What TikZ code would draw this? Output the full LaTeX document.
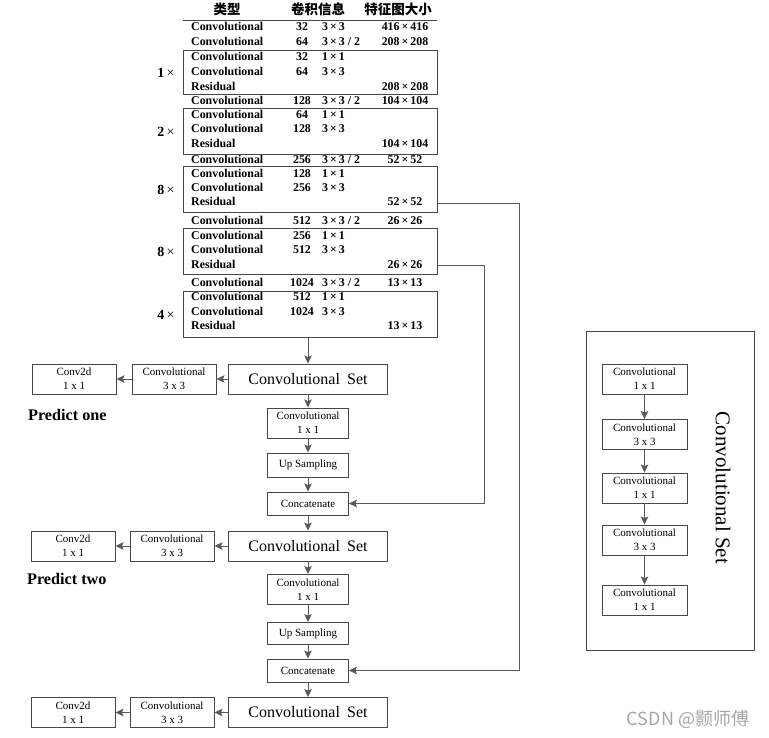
\documentclass[tikz,border=0pt]{standalone}
\usepackage{fontspec}
\setmainfont{Liberation Serif}
\newfontfamily\cjk{Noto Sans CJK SC}
\usetikzlibrary{arrows.meta, calc}
\definecolor{edgegray}{HTML}{474747}
\definecolor{linkgray}{HTML}{5A5A5A}

\begin{document}
\begin{tikzpicture}[x=1pt, y=-1pt, >={Stealth[length=8pt, width=7.5pt, inset=1.5pt]},
  every node/.style={font=\fontsize{11}{14}\selectfont, inner sep=0pt},
  rowtext/.style={font=\fontsize{11.9}{14}\selectfont\bfseries, text height=8pt, text depth=2pt},
  unit/.style={draw=edgegray, line width=1pt, minimum width=254pt},
  layer/.style={draw=edgegray, line width=0.9pt, align=center, minimum width=84pt, minimum height=30pt},
  setbox/.style={draw=edgegray, line width=0.9pt, minimum width=159pt, minimum height=30pt, font=\fontsize{16}{18}\selectfont},
  link/.style={draw=linkgray, line width=1pt}]
  \useasboundingbox (0,0) rectangle (769,738);

  \node[font=\cjk\fontsize{13.5}{15}\selectfont\bfseries] (hType) at (227,9) {类型};
  \node[font=\cjk\fontsize{13.5}{15}\selectfont\bfseries] (hConv) at (318,9) {卷积信息};
  \node[font=\cjk\fontsize{13.5}{15}\selectfont\bfseries] (hMap) at (398,9) {特征图大小};
  \draw[edgegray, line width=0.9pt] (183,20) -- (437,20);

  \foreach \i/\y/\kind/\ch/\ker/\fm in {
      1/28/Convolutional/32/3\,×\,3/416\,×\,416,
      2/43/Convolutional/64/{3\,×\,3 / 2}/208\,×\,208,
      3/58/Convolutional/32/1\,×\,1/,
      4/73/Convolutional/64/3\,×\,3/,
      5/88/Residual///208\,×\,208,
      6/102/Convolutional/128/{3\,×\,3 / 2}/104\,×\,104,
      7/116/Convolutional/64/1\,×\,1/,
      8/130/Convolutional/128/3\,×\,3/,
      9/145/Residual///104\,×\,104,
      10/161/Convolutional/256/{3\,×\,3 / 2}/52\,×\,52,
      11/175/Convolutional/128/1\,×\,1/,
      12/189/Convolutional/256/3\,×\,3/,
      13/203/Residual///52\,×\,52,
      14/222/Convolutional/512/{3\,×\,3 / 2}/26\,×\,26,
      15/237/Convolutional/256/1\,×\,1/,
      16/251/Convolutional/512/3\,×\,3/,
      17/266/Residual///26\,×\,26,
      18/284/Convolutional/1024/{3\,×\,3 / 2}/13\,×\,13,
      19/298/Convolutional/512/1\,×\,1/,
      20/313/Convolutional/1024/3\,×\,3/,
      21/327/Residual///13\,×\,13} {
    \node[rowtext, anchor=west] (t\i) at (191,\y) {\kind};
    \node[rowtext] (c\i) at (302,\y) {\ch};
    \node[rowtext, anchor=west] (k\i) at (322,\y) {\ker};
    \node[rowtext] (f\i) at (405,\y) {\fm};
  }

  \foreach \b/\top/\bot/\rep in {1/51/95/1, 2/109/155/2, 3/167/213/8, 4/229/275/8, 5/292/337/4} {
    \node[unit, minimum height={(\bot-\top)*1pt}] (blk\b) at (310,{(\top+\bot)/2}) {};
    \node[font=\fontsize{14}{16}\selectfont] (rep\b) at (166,{(\top+\bot)/2}) {\textbf{\rep}\,×};
  }

  \node[setbox] (set1) at (308,379) {Convolutional\hspace{0.45em}Set};
  \node[layer] (k3a) at (174,379) {Convolutional\\3 x 3};
  \node[layer] (out1) at (74,379) {Conv2d\\1 x 1};
  \node[font=\fontsize{16.2}{18}\selectfont\bfseries, anchor=west] (pred1) at (28,415) {Predict one};
  \node[layer, minimum width=81pt] (c1a) at (308,423) {Convolutional\\1 x 1};
  \node[layer, minimum width=81pt, minimum height=24pt] (up1) at (308,465) {Up Sampling};
  \node[layer, minimum width=81pt, minimum height=23pt] (cat1) at (308,503.5) {Concatenate};

  \node[setbox] (set2) at (308,546) {Convolutional\hspace{0.45em}Set};
  \node[layer] (k3b) at (172,546) {Convolutional\\3 x 3};
  \node[layer] (out2) at (73,546) {Conv2d\\1 x 1};
  \node[font=\fontsize{16.2}{18}\selectfont\bfseries, anchor=west] (pred2) at (27,579) {Predict two};
  \node[layer, minimum width=81pt] (c1b) at (308,589.5) {Convolutional\\1 x 1};
  \node[layer, minimum width=81pt, minimum height=22pt] (up2) at (308,633.5) {Up Sampling};
  \node[layer, minimum width=81pt, minimum height=23pt] (cat2) at (308,670.5) {Concatenate};

  \node[setbox] (set3) at (308,712.5) {Convolutional\hspace{0.45em}Set};
  \node[layer] (k3c) at (172,712.5) {Convolutional\\3 x 3};
  \node[layer] (out3) at (73,712.5) {Conv2d\\1 x 1};

  \draw[->, link] (blk5.south -| set1.north) -- (set1.north);
  \draw[->, link] (set1) -- (k3a);
  \draw[->, link] (k3a) -- (out1);
  \draw[->, link] (set1) -- (c1a);
  \draw[->, link] (c1a) -- (up1);
  \draw[->, link] (up1) -- (cat1);
  \draw[->, link] (cat1) -- (set2);
  \draw[->, link] (set2) -- (k3b);
  \draw[->, link] (k3b) -- (out2);
  \draw[->, link] (set2) -- (c1b);
  \draw[->, link] (c1b) -- (up2);
  \draw[->, link] (up2) -- (cat2);
  \draw[->, link] (cat2) -- (set3);
  \draw[->, link] (set3) -- (k3c);
  \draw[->, link] (k3c) -- (out3);

  \coordinate (tap26) at (484,266);
  \coordinate (tap52) at (519,204);
  \draw[->, link] (blk4.east |- tap26) -- (tap26) |- (cat1.east);
  \draw[->, link] (blk3.east |- tap52) -- (tap52) |- (cat2.east);

  \node[draw=edgegray, line width=0.9pt, minimum width=168pt, minimum height=319pt] (setpanel) at (670,490.5) {};
  \foreach \j/\y/\k in {1/379/1 x 1, 2/434.5/3 x 3, 3/488/1 x 1, 4/540/3 x 3, 5/600/1 x 1}
    \node[layer, minimum width=85pt] (cs\j) at (644.5,\y) {Convolutional\\\k};
  \foreach \j [evaluate=\j as \n using int(\j+1)] in {1,...,4}
    \draw[->, link] (cs\j) -- (cs\n);
  \node[rotate=-90, font=\fontsize{21}{24}\selectfont] (setlabel) at (723,488) {Convolutional Set};

  \node[font=\cjk\fontsize{18}{20}\selectfont, text=gray!70] (mark) at (688,720) {CSDN @颢师傅};
\end{tikzpicture}
\end{document}
